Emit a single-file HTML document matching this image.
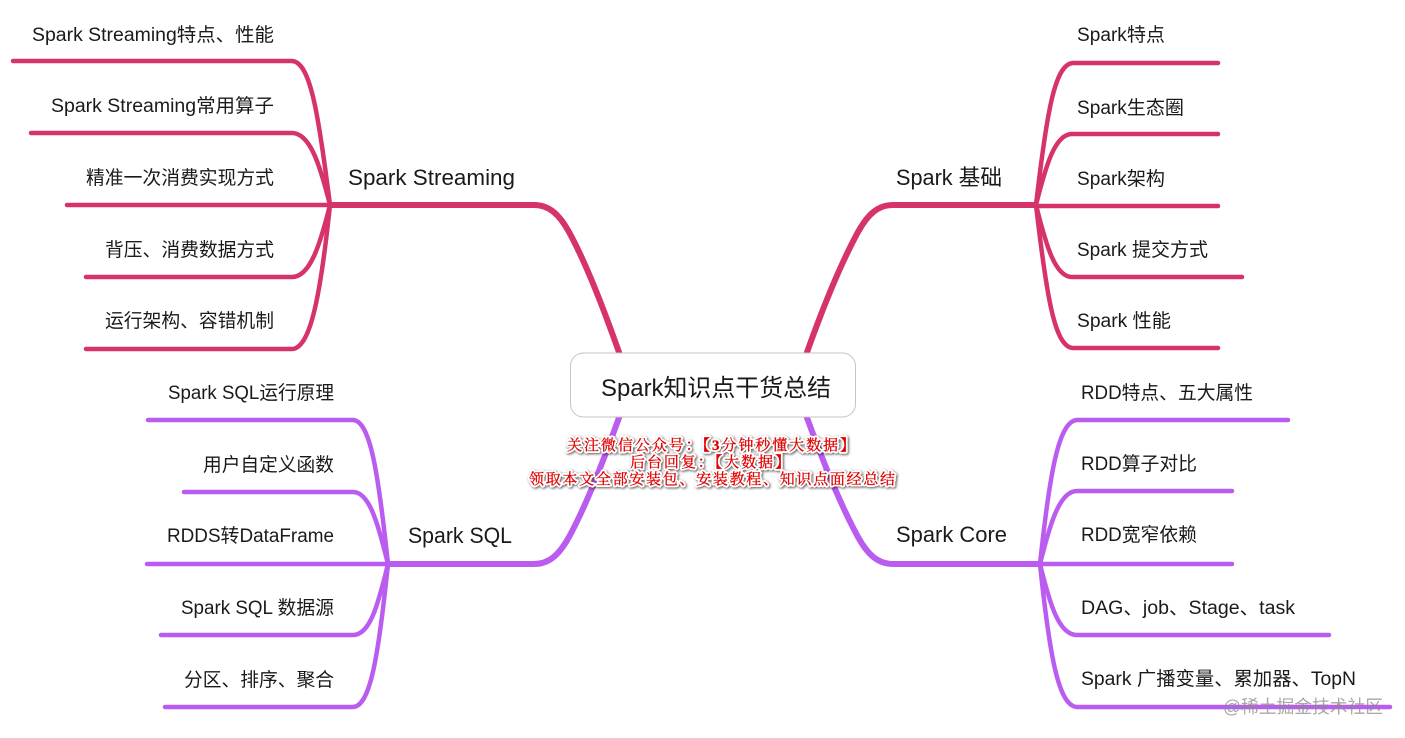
<!DOCTYPE html>
<html lang="zh">
<head>
<meta charset="utf-8">
<title>Spark知识点干货总结</title>
<style>
html,body{margin:0;padding:0;background:#fff;width:1405px;height:738px;overflow:hidden}
svg{display:block}
text{font-family:"Liberation Sans","Noto Sans CJK SC",sans-serif;fill:#1a1a1a}
.b{font-size:19px}
.m{font-size:22px}
.r{fill:none;stroke:#d6336c;stroke-linecap:round}
.p{fill:none;stroke:#bb5cf0;stroke-linecap:round}
.halo text,.redt text{font-family:"Liberation Serif","Noto Serif CJK SC",serif;font-size:15px}
.halo{filter:drop-shadow(1.5px 1.5px 1.2px rgba(0,0,0,.65))}
.halo text{fill:#fff;stroke:#fff;stroke-width:4px;stroke-linejoin:round}
.redt text{fill:#e00000;stroke:#e00000;stroke-width:.3px}
</style>
</head>
<body>
<svg width="1405" height="738" viewBox="0 0 1405 738" xmlns="http://www.w3.org/2000/svg">
<rect width="1405" height="738" fill="#fff"/>

<!-- main branches -->
<g stroke-width="6">
<path class="r" d="M330 205H534C549 205 559 214 569 232C587 265 604 310 620 355"/>
<path class="r" d="M1036 205H893C878 205 868 214 858 232C840 265 822 310 806 355"/>
<path class="p" d="M388 564H534C549 564 559 555 569 537C587 504 604 459 620 415"/>
<path class="p" d="M1040 564H893C878 564 868 555 858 537C840 504 822 459 806 415"/>
</g>

<!-- top left leaves -->
<g class="r" stroke-width="4.500">
<path d="M13 61H292C310 62 318 110 330 205"/>
<path d="M31 133H292C310 133 320 165 330 205"/>
<path d="M67 205H330"/>
<path d="M86 277H292C310 277 320 245 330 205"/>
<path d="M86 349H292C310 348 320 300 330 205"/>
</g>
<!-- top right leaves -->
<g class="r" stroke-width="4.500">
<path d="M1218 63H1073C1055 64 1047 110 1036 205"/>
<path d="M1218 134H1072C1055 134 1046 165 1036 205"/>
<path d="M1218 206H1036"/>
<path d="M1242 277H1072C1055 277 1046 245 1036 205"/>
<path d="M1218 348H1073C1055 347 1047 300 1036 205"/>
</g>
<!-- bottom left leaves -->
<g class="p" stroke-width="4.500">
<path d="M148 420H353C370 421 378 470 388 564"/>
<path d="M184 492H353C370 492 378 525 388 564"/>
<path d="M147 564H388"/>
<path d="M161 635H353C370 635 378 605 388 564"/>
<path d="M165 707H353C370 706 378 660 388 564"/>
</g>
<!-- bottom right leaves -->
<g class="p" stroke-width="4.500">
<path d="M1288 420H1077C1059 421 1050 470 1040 564"/>
<path d="M1232 491H1077C1059 491 1050 525 1040 564"/>
<path d="M1232 564H1040"/>
<path d="M1329 635H1077C1059 635 1050 605 1040 564"/>
<path d="M1390 707H1077C1059 706 1050 660 1040 564"/>
</g>

<!-- center -->
<rect x="570.500" y="353" width="285" height="64" rx="13" fill="#fff" stroke="#c4c4c4" stroke-width="1"/>
<text class="m" x="601" y="396" style="font-size:24px" textLength="230" lengthAdjust="spacingAndGlyphs">Spark知识点干货总结</text>

<!-- main labels -->
<text class="m" x="348" y="185" textLength="167" lengthAdjust="spacingAndGlyphs">Spark Streaming</text>
<text class="m" x="896" y="185" textLength="106" lengthAdjust="spacingAndGlyphs">Spark 基础</text>
<text class="m" x="408" y="543" textLength="104" lengthAdjust="spacingAndGlyphs">Spark SQL</text>
<text class="m" x="896" y="542" textLength="111" lengthAdjust="spacingAndGlyphs">Spark Core</text>

<!-- top left text -->
<text class="b" x="32" y="41" textLength="242" lengthAdjust="spacingAndGlyphs">Spark Streaming特点、性能</text>
<text class="b" x="51" y="112" textLength="223" lengthAdjust="spacingAndGlyphs">Spark Streaming常用算子</text>
<text class="b" x="86" y="184" textLength="188" lengthAdjust="spacingAndGlyphs">精准一次消费实现方式</text>
<text class="b" x="105" y="256" textLength="169" lengthAdjust="spacingAndGlyphs">背压、消费数据方式</text>
<text class="b" x="105" y="327" textLength="169" lengthAdjust="spacingAndGlyphs">运行架构、容错机制</text>

<!-- top right text -->
<text class="b" x="1077" y="41" textLength="88" lengthAdjust="spacingAndGlyphs">Spark特点</text>
<text class="b" x="1077" y="114" textLength="107" lengthAdjust="spacingAndGlyphs">Spark生态圈</text>
<text class="b" x="1077" y="185" textLength="88" lengthAdjust="spacingAndGlyphs">Spark架构</text>
<text class="b" x="1077" y="256" textLength="131" lengthAdjust="spacingAndGlyphs">Spark 提交方式</text>
<text class="b" x="1077" y="327" textLength="94" lengthAdjust="spacingAndGlyphs">Spark 性能</text>

<!-- bottom left text -->
<text class="b" x="168" y="399" textLength="166" lengthAdjust="spacingAndGlyphs">Spark SQL运行原理</text>
<text class="b" x="203" y="471" textLength="131" lengthAdjust="spacingAndGlyphs">用户自定义函数</text>
<text class="b" x="167" y="542" textLength="167" lengthAdjust="spacingAndGlyphs">RDDS转DataFrame</text>
<text class="b" x="181" y="614" textLength="153" lengthAdjust="spacingAndGlyphs">Spark SQL 数据源</text>
<text class="b" x="184" y="686" textLength="150" lengthAdjust="spacingAndGlyphs">分区、排序、聚合</text>

<!-- bottom right text -->
<text class="b" x="1081" y="399" textLength="172" lengthAdjust="spacingAndGlyphs">RDD特点、五大属性</text>
<text class="b" x="1081" y="470" textLength="116" lengthAdjust="spacingAndGlyphs">RDD算子对比</text>
<text class="b" x="1081" y="541" textLength="116" lengthAdjust="spacingAndGlyphs">RDD宽窄依赖</text>
<text class="b" x="1081" y="614" textLength="214" lengthAdjust="spacingAndGlyphs">DAG、job、Stage、task</text>
<text class="b" x="1081" y="685" textLength="275" lengthAdjust="spacingAndGlyphs">Spark 广播变量、累加器、TopN</text>

<!-- overlay: halo layer, then red text layer so lines do not erase each other -->
<g class="halo">
<text x="567" y="450" textLength="288" lengthAdjust="spacing">关注微信公众号：【<tspan font-weight="bold">3</tspan>分钟秒懂大数据】</text>
<text x="630" y="467" textLength="160" lengthAdjust="spacing">后台回复：【大数据】</text>
<text x="529" y="484" textLength="366" lengthAdjust="spacing">领取本文全部安装包、安装教程、知识点面经总结</text>
</g>
<g class="redt">
<text x="567" y="450" textLength="288" lengthAdjust="spacing">关注微信公众号：【<tspan font-weight="bold">3</tspan>分钟秒懂大数据】</text>
<text x="630" y="467" textLength="160" lengthAdjust="spacing">后台回复：【大数据】</text>
<text x="529" y="484" textLength="366" lengthAdjust="spacing">领取本文全部安装包、安装教程、知识点面经总结</text>
</g>

<!-- watermark -->
<text x="1223" y="713" style="font-size:18px;fill:#8a8a8a;fill-opacity:.75" textLength="160" lengthAdjust="spacingAndGlyphs">@稀土掘金技术社区</text>
</svg>
</body>
</html>
